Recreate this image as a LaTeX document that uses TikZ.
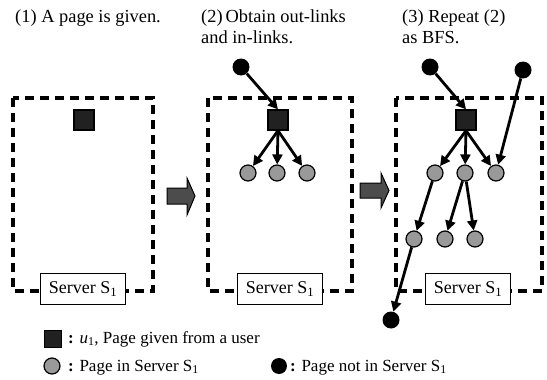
\documentclass[tikz,border=0pt]{standalone}
\usepackage{fontspec}
\setmainfont{Liberation Serif}
\usetikzlibrary{arrows.meta}
\begin{document}
\begin{tikzpicture}[x=1pt,y=-1pt,
  ttl/.style={anchor=base west,inner sep=0pt,font=\fontsize{18.4}{22}\selectfont},
  lgd/.style={anchor=base west,inner sep=0pt,font=\fontsize{17}{20}\selectfont},
  srvbox/.style={draw,fill=white,line width=1.6pt,minimum width=85pt,minimum height=31pt,inner sep=0pt,font=\fontsize{18}{20}\selectfont},
  serverarea/.style={draw,line width=3.4pt,dash pattern=on 9pt off 6pt},
  pgsq/.style={draw,fill=black!87,line width=1.2pt,minimum size=20pt,inner sep=0pt},
  ing/.style={circle,draw,fill=black!40,line width=1.2pt,minimum size=16pt,inner sep=0pt},
  outb/.style={circle,fill=black,minimum size=17pt,inner sep=0pt},
  lnk/.style={line width=2.8pt,-{Triangle[length=10pt,width=10pt]}},
  blockarrow/.style={draw,fill=black!70,line width=1pt,line join=miter}
]
\useasboundingbox (0,0) rectangle (547,380);

% titles
\node[ttl] (t1) at (15,22) {(1) A page is given.};
\node[ttl] (t2a) at (201,22) {(2)\,Obtain out-links};
\node[ttl] (t2b) at (201,43) {and in-links.};
\node[ttl] (t3a) at (402,22) {(3) Repeat (2)};
\node[ttl] (t3b) at (402,43) {as BFS.};

% server areas
\draw[serverarea] (13,98) rectangle (153,291);
\draw[serverarea] (208,98) rectangle (352,291);
\draw[serverarea] (396,98) rectangle (542,291);
\node[srvbox] (s1) at (83,289) {Server S\textsubscript{1}};
\node[srvbox] (s2) at (280,289) {Server S\textsubscript{1}};
\node[srvbox] (s3) at (468,289) {Server S\textsubscript{1}};

% block arrows
\draw[blockarrow] (167,188) -- (187,188) -- (187,178) -- (195,196) -- (187,215) -- (187,204) -- (167,204) -- cycle;
\draw[blockarrow] (360,183) -- (381,183) -- (381,173) -- (389,190.5) -- (381,208) -- (381,198) -- (360,198) -- cycle;

% panel 1
\node[pgsq] (u1) at (84,120) {};

% panel 2
\node[pgsq] (u2) at (278,120) {};
\node[outb] (b2) at (241,67) {};
\node[ing] (g2a) at (248,173) {};
\node[ing] (g2b) at (277,173) {};
\node[ing] (g2c) at (307,173) {};
\draw[lnk] (b2) -- (u2.north);
\draw[lnk] (u2.south) -- (g2a);
\draw[lnk] (u2.south) -- (g2b);
\draw[lnk] (u2.south) -- (g2c);

% panel 3
\node[pgsq] (u3) at (466,120) {};
\node[outb] (b3a) at (430,67) {};
\node[outb] (b3b) at (523,70) {};
\node[ing] (g3a) at (435,173) {};
\node[ing] (g3b) at (465,173) {};
\node[ing] (g3c) at (496,173) {};
\node[ing] (h3a) at (414,239) {};
\node[ing] (h3b) at (445,239) {};
\node[ing] (h3c) at (475,239) {};
\node[outb] (b3c) at (391,320) {};
\draw[lnk] (b3a) -- (u3.north);
\draw[lnk] (u3.south) -- (g3a);
\draw[lnk] (u3.south) -- (g3b);
\draw[lnk] (u3.south) -- (g3c);
\draw[lnk] (b3b) -- (g3c);
\draw[lnk] (g3a) -- (h3a);
\draw[lnk] (g3b) -- (h3b);
\draw[lnk] (g3b) -- (h3c);
\draw[lnk] (h3a) -- (b3c);

% legend
\node[pgsq,minimum size=17pt] (lsq) at (53,339) {};
\node[lgd] (l1) at (68,343) {\textbf{:} \textit{u}\textsubscript{1}, Page given from a user};
\node[ing] (lg) at (52,366) {};
\node[lgd] (l2) at (68,371) {\textbf{:} Page in Server S\textsubscript{1}};
\node[outb,minimum size=16pt] (lb) at (279,366) {};
\node[lgd] (l3) at (290,371) {\textbf{:} Page not in Server S\textsubscript{1}};
\end{tikzpicture}
\end{document}
